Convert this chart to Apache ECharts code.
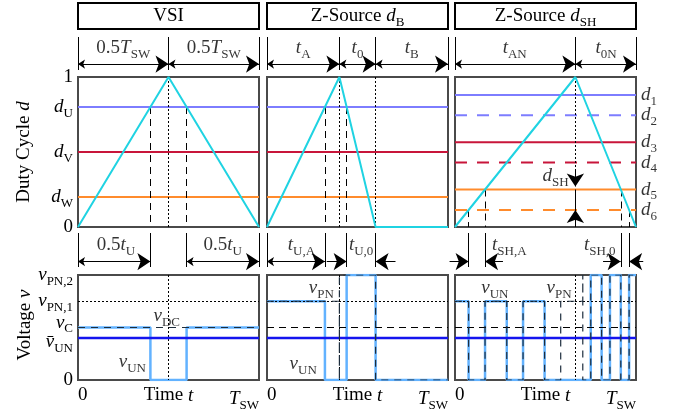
<!DOCTYPE html>
<html>
<head>
<meta charset="utf-8">
<script src="https://cdn.jsdelivr.net/npm/echarts@6/dist/echarts.min.js"></script>
<style>
  html, body { margin: 0; padding: 0; background: #fff; }
  #chart { width: 681px; height: 412px; }
</style>
</head>
<body>
<div id="chart"></div>
<script>
const FONT = 'Liberation Serif';
const sym = (m, s) => `{i|${m}}` + (s ? `{s|${s}}` : '');

// time is normalised to one switching period, 0 .. T_SW = 0 .. 1
const carrierVSI = [[0, 0], [0.5, 1], [1, 0]];
const carrierZB = [[0, 0], [0.4, 1], [0.6, 0], [1, 0]];
const carrierZSH = [[0, 0], [0.665, 1], [1, 0]];

const dutyUVW = [0.8, 0.5, 0.2];
const dutySH = [0.88, 0.745, 0.565, 0.43, 0.25, 0.113];

// carrier / reference crossings  [t, level]
const crossVSI = [[0.4, 0.8], [0.6, 0.8]];
const crossZB = [[0.32, 0.8], [0.44, 0.8]];
const crossSH = [[0.075, 0.113], [0.166, 0.25], [0.916, 0.25], [0.962, 0.113]];

// voltage levels: 0, mean vUN, vC, vPN,1, vPN,2
const vLevels = [0, 0.4, 0.5, 0.75, 1];
const vUNvsi = [[0, 0.5], [0.4, 0.5], [0.4, 0], [0.6, 0], [0.6, 0.5], [1, 0.5]];
const vUNzb = [[0, 0.75], [0.32, 0.75], [0.32, 0], [0.44, 0], [0.44, 1], [0.6, 1], [0.6, 0], [1, 0]];
const vPNzb = [[0, 0.75], [0.4, 0.75], [0.4, 0], [0.4, 1], [0.6, 1], [0.6, 0], [1, 0]];
const vUNsh = [[0, 0.75], [0.075, 0.75], [0.075, 0], [0.166, 0], [0.166, 0.75], [0.286, 0.75], [0.286, 0],
  [0.376, 0], [0.376, 0.75], [0.495, 0.75], [0.495, 0], [0.75, 0], [0.75, 1], [0.81, 1], [0.81, 0],
  [0.856, 0], [0.856, 1], [0.916, 1], [0.916, 0], [0.962, 0], [0.962, 1], [1, 1]];
const vPNsh = [[0, 0.75], [0.075, 0.75], [0.075, 0], [0.166, 0], [0.166, 0.75], [0.286, 0.75], [0.286, 0],
  [0.376, 0], [0.376, 0.75], [0.495, 0.75], [0.495, 0], [0.584, 0], [0.584, 0.75], [0.706, 0.75], [0.706, 1],
  [0.706, 0], [0.75, 0], [0.75, 1], [0.81, 1], [0.81, 0], [0.856, 0], [0.856, 1], [0.916, 1], [0.916, 0],
  [0.962, 0], [0.962, 1], [1, 1]];

// dimension rows above the plots
const row1Ticks = [[0, 0.5, 1], [0, 0.4, 0.6, 1], [0, 0.665, 1]];
const row1Spans = [[[0, 0.5], [0.5, 1]], [[0, 0.4], [0.4, 0.6], [0.6, 1]], [[0, 0.665], [0.665, 1]]];
const row1Text = [
  [[0.25, '{n|0.5}' + sym('T', 'SW')], [0.75, '{n|0.5}' + sym('T', 'SW')]],
  [[0.2, sym('t', 'A')], [0.5, sym('t', '0')], [0.8, sym('t', 'B')]],
  [[0.33, sym('t', 'AN')], [0.835, sym('t', '0N')]]
];
const row2Ticks = [[0, 0.4, 0.6, 1], [0, 0.32, 0.44, 0.6], [0.075, 0.166, 0.916, 0.962]];
const row2Both = [[[0, 0.4], [0.6, 1]], [[0, 0.32]], []];
const row2Single = [[], [[0.33, 0.44], [0.71, 0.6]], [[-0.03, 0.075], [0.265, 0.166], [0.818, 0.915], [1.04, 0.962]]];
const row2Text = [
  [[0.21, '{n|0.5}' + sym('t', 'U')], [0.8, '{n|0.5}' + sym('t', 'U')]],
  [[0.19, sym('t', 'U,A')], [0.52, sym('t', 'U,0')]],
  [[0.3, sym('t', 'SH,A')], [0.8, sym('t', 'SH,0')]]
];

const vText = [
  [[0.49, 0.61, sym('v', 'DC')], [0.3, 0.17, sym('v', 'UN')]],
  [[0.3, 0.88, sym('v', 'PN')], [0.2, 0.15, sym('v', 'UN')]],
  [[0.22, 0.88, sym('v', 'UN')], [0.575, 0.88, sym('v', 'PN')]]
];

const CYAN = '#1fd3e2', PURPLE = '#7d7dff', RED = '#c8153a', ORANGE = '#ff8b2c';
const LBLUE = '#62b2ff', BLUE = '#1414ee', INK = '#000', DASH_INK = '#1d2d3d';
const dutyColors = [PURPLE, RED, ORANGE];

const RICH = {
  n: { fontFamily: FONT, fontSize: 19, color: INK },
  i: { fontFamily: FONT, fontSize: 19, fontStyle: 'italic', color: INK },
  s: { fontFamily: FONT, fontSize: 13, color: INK, padding: [13, 0, 0, 0] },
  // nudged up / down variants for the crowded vC and mean vUN tick labels
  iu: { fontFamily: FONT, fontSize: 19, fontStyle: 'italic', color: INK, padding: [0, 0, 10, 0] },
  su: { fontFamily: FONT, fontSize: 13, color: INK, padding: [3, 0, 0, 0] },
  id: { fontFamily: FONT, fontSize: 19, fontStyle: 'italic', color: INK, padding: [8, 0, 0, 0] },
  sd: { fontFamily: FONT, fontSize: 13, color: INK, padding: [21, 0, 0, 0] }
};

const LEFT = [78, 267, 455];
const WIDTH = 181;
const ROWS = [{ top: 77, height: 150 }, { top: 275, height: 107 }, { top: 37, height: 33 }, { top: 233, height: 34 }];
const gi = (r, c) => r * 3 + c;

const grids = [], xAxes = [], yAxes = [];
ROWS.forEach((r, ri) => LEFT.forEach((l) => {
  const idx = grids.length;
  grids.push({ left: l, top: r.top, width: WIDTH, height: r.height, show: ri < 2, borderColor: '#4a4a4a', borderWidth: 2 });
  xAxes.push({ type: 'value', gridIndex: idx, min: 0, max: 1, show: false });
  yAxes.push({ type: 'value', gridIndex: idx, min: 0, max: 1, show: false });
}));

function labelAxis(ax, values, labels, extra) {
  Object.assign(ax, {
    show: true, axisLine: { show: false }, axisTick: { show: false }, splitLine: { show: false },
    axisLabel: Object.assign({
      customValues: values, rich: RICH, showMinLabel: true, showMaxLabel: true, hideOverlap: false,
      formatter: v => labels[values.findIndex(x => Math.abs(x - v) < 1e-6)] || ''
    }, extra)
  });
}
labelAxis(yAxes[gi(0, 0)], [0, 0.2, 0.5, 0.8, 1], ['{n|0}', sym('d', 'W'), sym('d', 'V'), sym('d', 'U'), '{n|1}'], { margin: 5 });
labelAxis(yAxes[gi(1, 0)], vLevels,
  ['{n|0}', '{id|v\u0304}{sd|UN}', '{iu|v}{su|C}', sym('v', 'PN,1'), sym('v', 'PN,2')], { margin: 5 });
for (let c = 0; c < 3; c++) {
  labelAxis(xAxes[gi(1, c)], [0, 0.5, 1], ['{n|0}', '{n|Time }{i|t}', sym('T', 'SW')],
    { margin: 6, alignMinLabel: 'left', alignMaxLabel: 'right' });
}

const series = [];
function line(g, data, style, z) {
  series.push({ type: 'line', xAxisIndex: g, yAxisIndex: g, data, symbol: 'none', silent: true,
    lineStyle: style, z: z || 2 });
}
function segs(g, list, style, arrows, z) {
  series.push({ type: 'lines', coordinateSystem: 'cartesian2d', xAxisIndex: g, yAxisIndex: g, silent: true,
    clip: false, polyline: false, data: list.map(c => ({ coords: c })),
    lineStyle: Object.assign({ opacity: 1, curveness: 0 }, style),
    symbol: arrows || ['none', 'none'], symbolSize: [7, 13], z: z || 3 });
}
function texts(g, list, pos, dist) {
  series.push({ type: 'scatter', xAxisIndex: g, yAxisIndex: g, symbolSize: 0, silent: true, z: 6, clip: false,
    data: list.map(([x, y, t]) => ({ value: [x, y], name: t })),
    label: { show: true, position: pos || 'inside', distance: dist || 0, formatter: p => p.name, rich: RICH } });
}
const DOT = { color: INK, width: 1, type: [2, 2] };
const DASH = { color: INK, width: 1, type: [7, 5] };
const THIN = { color: INK, width: 1 };
const BOTH = ['arrow', 'arrow'], END = ['none', 'arrow'];

// duty-cycle panels
dutyUVW.forEach((d, k) => {
  line(gi(0, 0), [[0, d], [1, d]], { color: dutyColors[k], width: 2 });
  line(gi(0, 1), [[0, d], [1, d]], { color: dutyColors[k], width: 2 });
});
dutySH.forEach((d, k) => line(gi(0, 2), [[0, d], [1, d]],
  { color: dutyColors[Math.floor(k / 2)], width: 2, type: k % 2 ? [12, 10] : 'solid' }));
// d1 .. d6 names at the right edge of the dSH panel
texts(gi(0, 2), dutySH.map((d, k) => [1, d, sym('d', String(k + 1))]), 'right', 5);
segs(gi(0, 0), crossVSI.map(([t, d]) => [[t, d], [t, 0]]), DASH);
segs(gi(0, 1), crossZB.map(([t, d]) => [[t, d], [t, 0]]), DASH);
segs(gi(0, 2), crossSH.map(([t, d]) => [[t, d], [t, 0]]), DASH);
segs(gi(0, 0), [[[0.5, 1], [0.5, 0]]], DOT);
segs(gi(0, 1), [[[0.4, 1], [0.4, 0]], [[0.6, 1], [0.6, 0]]], DOT);
segs(gi(0, 2), [[[0.665, 1], [0.665, 0.38]]], DOT);
segs(gi(0, 2), [[[0.665, 0.25], [0.665, 0.113]]], THIN);
segs(gi(0, 2), [[[0.665, 0.38], [0.665, 0.27]], [[0.665, 0], [0.665, 0.113]]], THIN, END);
texts(gi(0, 2), [[0.555, 0.34, sym('d', 'SH')]]);
line(gi(0, 0), carrierVSI, { color: CYAN, width: 2 }, 4);
line(gi(0, 1), carrierZB, { color: CYAN, width: 2 }, 4);
line(gi(0, 2), carrierZSH, { color: CYAN, width: 2 }, 4);

// voltage panels
const vUN = [vUNvsi, vUNzb, vUNsh];
const vPN = [null, vPNzb, vPNsh];
for (let c = 0; c < 3; c++) {
  const g = gi(1, c);
  segs(g, [[[0, 0.75], [1, 0.75]]], DOT);
  if (c > 0) segs(g, [[[0, 0.5], [1, 0.5]]], DASH);
  line(g, vUN[c], { color: LBLUE, width: 2.5 }, 2);
  line(g, [[0, 0.4], [1, 0.4]], { color: BLUE, width: 2.5 }, 3);
  if (vPN[c]) line(g, vPN[c], { color: DASH_INK, width: 1.2, type: [7, 6] }, 4);
  texts(g, vText[c]);
}
line(gi(1, 0), [[0, 0.5], [1, 0.5]], { color: DASH_INK, width: 1.2, type: [7, 6] }, 4);
segs(gi(1, 0), [[[0.5, 1], [0.5, 0]]], DOT);
segs(gi(1, 1), [[[0.4, 1], [0.4, 0]]], DOT);
segs(gi(1, 2), [[[0.665, 1], [0.665, 0]]], DOT);

// dimension rows
for (let c = 0; c < 3; c++) {
  const g1 = gi(2, c), g2 = gi(3, c);
  segs(g1, row1Ticks[c].map(t => [[t, 0], [t, 1]]), THIN);
  segs(g1, row1Spans[c].map(([a, b]) => [[a, 0.18], [b, 0.18]]), THIN, BOTH);
  texts(g1, row1Text[c].map(([t, s]) => [t, 0.66, s]));
  segs(g2, row2Ticks[c].map(t => [[t, 0], [t, 1]]), THIN);
  if (row2Both[c].length) segs(g2, row2Both[c].map(([a, b]) => [[a, 0.16], [b, 0.16]]), THIN, BOTH);
  if (row2Single[c].length) segs(g2, row2Single[c].map(([a, b]) => [[a, 0.16], [b, 0.16]]), THIN, END);
  texts(g2, row2Text[c].map(([t, s]) => [t, 0.64, s]));
}

const titles = ['{n|VSI}', '{n|Z-Source }' + sym('d', 'B'), '{n|Z-Source }' + sym('d', 'SH')];
const graphic = [];
titles.forEach((t, c) => {
  graphic.push({ type: 'rect', shape: { x: LEFT[c], y: 3, width: WIDTH, height: 26 },
    style: { fill: '#fff', stroke: INK, lineWidth: 2 } });
  graphic.push({ type: 'text', x: LEFT[c] + WIDTH / 2, y: 16,
    style: { text: t, rich: RICH, align: 'center', verticalAlign: 'middle' } });
});
graphic.push({ type: 'text', x: 24, y: 152, rotation: Math.PI / 2,
  style: { text: '{n|Duty Cycle }{i|d}', rich: RICH, align: 'center', verticalAlign: 'middle' } });
graphic.push({ type: 'text', x: 25, y: 325, rotation: Math.PI / 2,
  style: { text: '{n|Voltage }{i|v}', rich: RICH, align: 'center', verticalAlign: 'middle' } });

const chart = echarts.init(document.getElementById('chart'));
chart.setOption({
  animation: false,
  backgroundColor: '#fff',
  grid: grids,
  xAxis: xAxes,
  yAxis: yAxes,
  graphic,
  series
});
</script>
</body>
</html>
